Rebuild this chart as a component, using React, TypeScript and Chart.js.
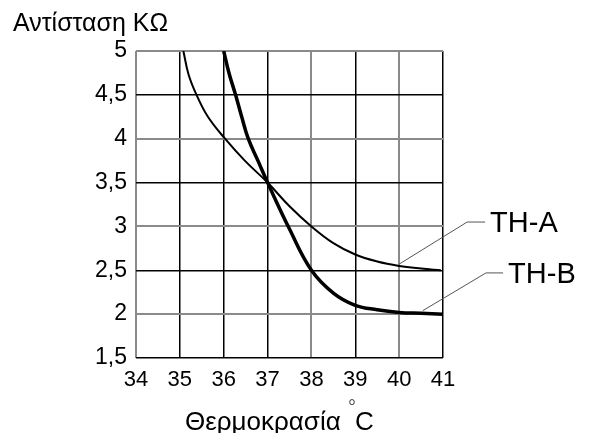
import React, { useEffect, useRef } from "react";
import { Chart, registerables } from "chart.js";

Chart.register(...registerables);

const xTicks = [34, 35, 36, 37, 38, 39, 40, 41];
const yTicks = [1.5, 2, 2.5, 3, 3.5, 4, 4.5, 5];

const tempA = [35.08, 35.2, 35.38, 35.64, 36.03, 36.48, 37, 37.5, 38, 38.5, 39, 39.5, 40, 40.5, 40.95];
const resA = [5.0, 4.73, 4.5, 4.25, 4.0, 3.75, 3.5, 3.23, 3.0, 2.81, 2.68, 2.6, 2.55, 2.52, 2.5];

const tempB = [36.0, 36.12, 36.27, 36.41, 36.56, 36.78, 37, 37.5, 38, 38.5, 39, 39.5, 40, 40.5, 41];
const resB = [5.0, 4.75, 4.5, 4.25, 4.0, 3.75, 3.5, 2.97, 2.5, 2.24, 2.1, 2.05, 2.02, 2.01, 2.0];

const seriesNames = ["TH-A", "TH-B"];
// leader lines: [anchor on curve, elbow, end] in data units
const leaderA = [[40.0, 2.57], [41.55, 3.05], [41.96, 3.05]];
const leaderB = [[40.54, 2.04], [41.98, 2.47], [42.37, 2.47]];

const yTitle = "Αντίσταση ΚΩ";
const xTitle = "Θερμοκρασία";
const xUnit = "C";

const FONT = "'Liberation Sans', Arial, sans-serif";

const grayX = new Set([34, 38, 40]);
const grayY = new Set([5, 4, 3, 2]);

const overlay = {
  id: "overlay",
  afterDraw(chart: any) {
    const ctx = chart.ctx;
    const xs = chart.scales.x;
    const ys = chart.scales.y;
    ctx.save();
    ctx.strokeStyle = "#555";
    ctx.lineWidth = 1;
    [leaderA, leaderB].forEach((pts) => {
      ctx.beginPath();
      pts.forEach((p, i) => {
        const px = xs.getPixelForValue(p[0]);
        const py = ys.getPixelForValue(p[1]);
        if (i === 0) ctx.moveTo(px, py);
        else ctx.lineTo(px, py);
      });
      ctx.stroke();
    });
    ctx.fillStyle = "#000";
    ctx.textBaseline = "middle";
    ctx.textAlign = "left";
    ctx.font = `29px ${FONT}`;
    [leaderA, leaderB].forEach((pts, i) => {
      const end = pts[pts.length - 1];
      ctx.fillText(seriesNames[i], xs.getPixelForValue(end[0]) + 5, ys.getPixelForValue(end[1]) + 2);
    });
    ctx.font = `25px ${FONT}`;
    ctx.fillText(yTitle, 5, 16);
    ctx.font = `26px ${FONT}`;
    ctx.fillText(xTitle, 177, 415);
    ctx.fillText(xUnit, 347, 415);
    ctx.fillStyle = "#555";
    ctx.textAlign = "center";
    ctx.font = `20px ${FONT}`;
    ctx.fillText("°", 344, 400);
    ctx.restore();
  },
};

export default function App() {
  const ref = useRef<HTMLCanvasElement | null>(null);
  useEffect(() => {
    if (!ref.current) return;
    const chart = new Chart(ref.current, {
      type: "line",
      data: {
        datasets: [
          {
            label: seriesNames[0],
            data: tempA.map((x, i) => ({ x, y: resA[i] })),
            borderColor: "#000",
            borderWidth: 2,
            pointRadius: 0,
            tension: 0.4,
            fill: false,
          },
          {
            label: seriesNames[1],
            data: tempB.map((x, i) => ({ x, y: resB[i] })),
            borderColor: "#000",
            borderWidth: 3.5,
            pointRadius: 0,
            tension: 0.4,
            fill: false,
          },
        ],
      },
      options: {
        animation: false,
        responsive: true,
        maintainAspectRatio: false,
        layout: { padding: { top: 43, right: 145, left: 0, bottom: 0 } },
        plugins: { legend: { display: false }, title: { display: false }, tooltip: { enabled: false } },
        scales: {
          x: {
            type: "linear",
            min: xTicks[0],
            max: xTicks[xTicks.length - 1],
            afterBuildTicks: (s: any) => {
              s.ticks = xTicks.map((v) => ({ value: v }));
            },
            afterFit: (s: any) => {
              s.height = 75;
            },
            ticks: {
              color: "#000",
              font: { family: FONT, size: 22 },
              padding: 9,
              maxRotation: 0,
              autoSkip: false,
              callback: (v: any) => String(v),
            },
            grid: {
              drawTicks: false,
              color: (c: any) => (grayX.has(c.tick?.value) ? "#8a8a8a" : "#000"),
              lineWidth: (c: any) => (grayX.has(c.tick?.value) ? 2 : 1.5),
            },
            border: { display: false },
          },
          y: {
            type: "linear",
            min: yTicks[0],
            max: yTicks[yTicks.length - 1],
            afterBuildTicks: (s: any) => {
              s.ticks = yTicks.map((v) => ({ value: v }));
            },
            afterFit: (s: any) => {
              s.width = 128;
            },
            ticks: {
              color: "#000",
              font: { family: FONT, size: 23 },
              padding: 9,
              autoSkip: false,
              callback: (v: any) => String(v).replace(".", ","),
            },
            grid: {
              drawTicks: false,
              color: (c: any) => (grayY.has(c.tick?.value) ? "#8a8a8a" : "#000"),
              lineWidth: (c: any) => (grayY.has(c.tick?.value) ? 2 : 1.5),
            },
            border: { display: false },
          },
        },
      },
      plugins: [overlay],
    });
    return () => chart.destroy();
  }, []);
  return (
    <div style={{ width: 580, height: 425, position: "relative" }}>
      <canvas ref={ref} />
    </div>
  );
}
